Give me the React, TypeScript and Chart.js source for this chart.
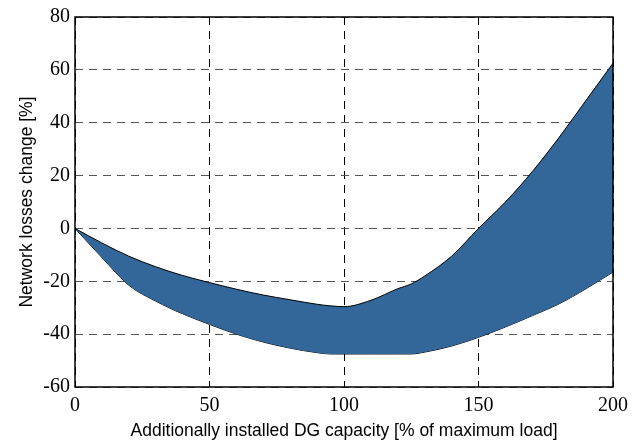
import React, { useEffect, useRef } from "react";
import { Chart, registerables } from "chart.js";

Chart.register(...registerables);

const capacity = [0, 10, 20, 30, 40, 50, 60, 70, 80, 90, 95, 100, 110, 120, 125, 130, 140, 150, 160, 170, 180, 190, 200];
const upperLoss = [0, -5.5, -10.5, -14.5, -17.8, -20.5, -23, -25.2, -27, -28.7, -29.3, -29.6, -27.2, -22.8, -21, -18, -10.5, 0, 10, 21.5, 34.5, 48.5, 62.5];
const lowerLoss = [0, -11, -21.5, -27.5, -32.3, -36.3, -40, -43, -45.3, -47, -47.5, -47.5, -47.5, -47.5, -47.5, -46.8, -44.5, -41.2, -37.3, -33, -28.5, -22.8, -16.5];

const xTicks = [0, 50, 100, 150, 200];
const yTicks = [-60, -40, -20, 0, 20, 40, 60, 80];

const serif = "'Liberation Serif', 'Times New Roman', serif";
const sans = "'Liberation Sans', Arial, sans-serif";

const framePlugin = {
  id: "frame",
  afterDatasetsDraw(chart: any) {
    const { ctx, chartArea } = chart;
    ctx.save();
    ctx.strokeStyle = "#000";
    ctx.lineWidth = 1.5;
    ctx.setLineDash([]);
    ctx.strokeRect(chartArea.left, chartArea.top, chartArea.right - chartArea.left, chartArea.bottom - chartArea.top);
    ctx.restore();
  },
};

export default function App() {
  const ref = useRef<HTMLCanvasElement>(null);
  useEffect(() => {
    const canvas = ref.current;
    if (!canvas) return;
    const chart = new Chart(canvas, {
      type: "line",
      data: {
        datasets: [
          {
            label: "upper",
            data: capacity.map((x, i) => ({ x, y: upperLoss[i] })),
            borderColor: "#000",
            borderWidth: 1,
            backgroundColor: "#336699",
            fill: "+1",
            pointRadius: 0,
            cubicInterpolationMode: "monotone",
          },
          {
            label: "lower",
            data: capacity.map((x, i) => ({ x, y: lowerLoss[i] })),
            borderColor: "#000",
            borderWidth: 1,
            backgroundColor: "#336699",
            fill: false,
            pointRadius: 0,
            cubicInterpolationMode: "monotone",
          },
        ],
      },
      options: {
        responsive: false,
        animation: false,
        layout: { padding: { left: 0, right: 30, top: 16, bottom: 0 } },
        plugins: { legend: { display: false }, tooltip: { enabled: false } },
        scales: {
          x: {
            type: "linear",
            min: 0,
            max: 200,
            afterBuildTicks: (s: any) => {
              s.ticks = xTicks.map((v) => ({ value: v }));
            },
            afterFit: (s: any) => {
              s.height = 54;
            },
            grid: { color: "#000", lineWidth: 1, drawTicks: false },
            border: { display: false, dash: [8, 6] },
            ticks: { color: "#000", font: { family: serif, size: 20 }, padding: 7, maxRotation: 0 },
            title: {
              display: true,
              text: "Additionally installed DG capacity [% of maximum load]",
              color: "#000",
              font: { family: sans, size: 17.5 },
              padding: { top: 0, bottom: -1 },
            },
          },
          y: {
            type: "linear",
            min: -60,
            max: 80,
            afterBuildTicks: (s: any) => {
              s.ticks = yTicks.map((v) => ({ value: v }));
            },
            afterFit: (s: any) => {
              s.width = 75;
            },
            grid: { color: "#555", lineWidth: 1, drawTicks: false },
            border: { display: false, dash: [8, 6] },
            ticks: { color: "#000", font: { family: serif, size: 20 }, padding: 5 },
            title: {
              display: true,
              text: "Network losses change [%]",
              color: "#000",
              font: { family: sans, size: 17.5 },
              padding: { top: 17, bottom: 0 },
            },
          },
        },
      },
      plugins: [framePlugin],
    });
    return () => chart.destroy();
  }, []);
  return (
    <div style={{ position: "absolute", left: 0, top: 0, width: 643, height: 441, background: "#fff" }}>
      <canvas ref={ref} width={643} height={441} />
    </div>
  );
}
